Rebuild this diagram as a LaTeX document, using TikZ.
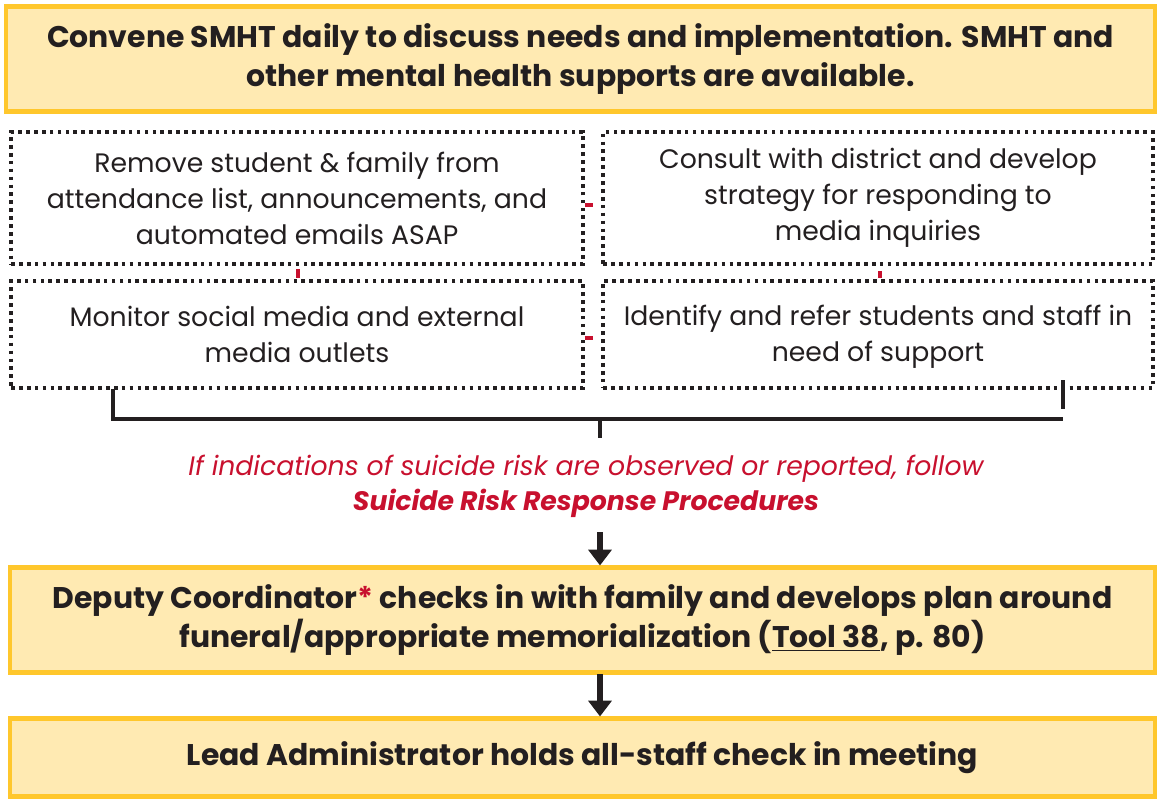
\documentclass[tikz,border=0pt]{standalone}
\usepackage{fontspec}
\setmainfont{Poppins}
\usepackage{tikz}
\usetikzlibrary{arrows.meta,positioning}
\definecolor{boxline}{HTML}{FFC72C}
\definecolor{boxfill}{HTML}{FFEAB2}
\definecolor{crimson}{HTML}{C8102E}
\definecolor{ink}{HTML}{231F20}
\tikzset{every node/.append style={text=ink}}
\tikzset{stage/.style={draw=boxline, fill=boxfill, line width=2.3pt, align=center,
  font=\fontsize{17}{22.2}\selectfont\bfseries}}
\tikzset{task/.style={draw=ink, line width=1.9pt, dash pattern=on 2.1pt off 2.4pt,
  align=center, font=\fontsize{15.2}{20.5}\selectfont}}
\tikzset{tie/.style={draw=crimson, line width=2.2pt}}
\tikzset{bracket/.style={draw=ink, line width=2.8pt}}
\tikzset{flow/.style={draw=ink, line width=3pt, -{Triangle[width=13pt,length=9pt]}}}

\begin{document}
\begin{tikzpicture}[x=0.02cm, y=-0.02cm]
\useasboundingbox (0,0) rectangle (1161,801);
\node[stage, minimum width=22.98cm, minimum height=2.1cm] (convene) at (580.5,59)
 {Convene SMHT daily to discuss needs and implementation. SMHT and\\
  other mental health supports are available.};
\node[task, minimum width=11.44cm, minimum height=2.64cm] (remove) at (297,198)
 {Remove student \& family from\\ attendance list, announcements, and\\ automated emails ASAP};
\node[task, minimum width=11cm, minimum height=2.64cm] (consult) at (878,198)
 {Consult with district and develop\\ strategy for responding to\\ media inquiries};
\node[task, minimum width=11.44cm, minimum height=2.14cm] (monitor) at (297,334.5)
 {Monitor social media and external\\ media outlets};
\node[task, minimum width=11cm, minimum height=2.14cm] (identify) at (878,334.5)
 {\strut Identify and refer students and staff in\\ need of support};
% red ties between the four tasks
\draw[tie, shorten >=5pt] ([yshift=-0.14cm]remove.east) -- ([yshift=-0.14cm]remove.east -| consult.west);
\draw[tie, shorten >=5pt] ([yshift=-0.07cm]monitor.east) -- ([yshift=-0.07cm]monitor.east -| identify.west);
\draw[tie, shorten <=2pt, shorten >=1pt] ([xshift=0.02cm]remove.south) -- ([xshift=0.02cm]remove.south |- monitor.north);
\draw[tie, shorten <=3pt, shorten >=1pt] ([xshift=0.04cm]consult.south) -- ([xshift=0.04cm]consult.south |- identify.north);
\node[font=\fontsize{15.2}{20}\selectfont, text=crimson, align=center] (note) at (586,486)
 {\itshape If indications of suicide risk are observed or reported, follow\\
  \bfseries\itshape Suicide Risk Response Procedures};
% bracket under the tasks
\coordinate (brL) at (113,389);
\coordinate (brR) at (1063,419);
\coordinate (brM) at (600,419);
\coordinate (spikeT) at (1063,380);
\coordinate (spikeB) at (1063,409);
\draw[bracket] (brL) |- (brR);
\draw[bracket] (spikeT) -- (spikeB);
\draw[bracket] (brM) -- (600,438) coordinate (stem);
\node[stage, minimum width=22.9cm, minimum height=2.1cm] (deputy) at (582.5,620)
 {Deputy Coordinator{\color{crimson}*} checks in with family and develops plan around\\
  funeral/appropriate memorialization (\underline{Tool 38}, p. 80)};
\node[stage, minimum width=22.9cm, minimum height=1.56cm] (lead) at (582.5,757.5)
 {Lead Administrator holds all-staff check in meeting};
\coordinate (a1) at (600,532);
\coordinate (a2) at (600,674);
\draw[flow] (a1) -- (a1 |- deputy.north);
\draw[flow] (a2) -- (a2 |- lead.north);
\end{tikzpicture}
\end{document}
